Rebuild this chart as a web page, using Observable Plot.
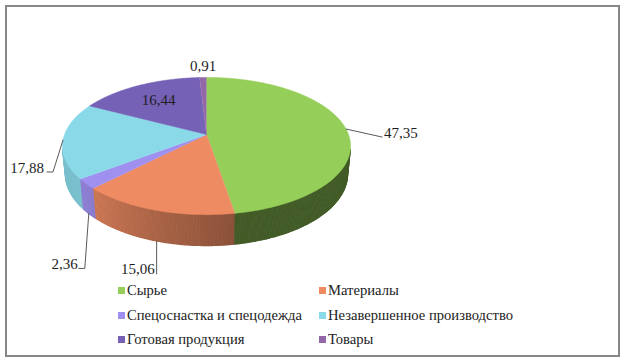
<!DOCTYPE html>
<html><head><meta charset="utf-8">
<script src="https://cdn.jsdelivr.net/npm/d3@7"></script>
<script src="https://cdn.jsdelivr.net/npm/@observablehq/plot@0.6"></script>
<style>
body{margin:0;background:#fff;width:625px;height:362px;overflow:hidden;position:relative;font-family:"Liberation Serif","Times New Roman",serif;}
#frame{position:absolute;left:5px;top:5px;width:611px;height:348px;border:2px solid #888;}
#chart{position:absolute;left:0;top:0;}
.lg{position:absolute;font-size:14.6px;color:#222;line-height:18px;white-space:nowrap;font-family:"Liberation Serif","Times New Roman",serif;}
.sw{position:absolute;width:7px;height:7px;}
svg text{font-family:"Liberation Serif","Times New Roman",serif !important;}
</style></head><body>
<div id="frame"></div>
<div id="chart"></div>
<div id="legend"></div>
<script>
// ---- data ----
const categories = ["Сырье", "Материалы", "Спецоснастка и спецодежда", "Незавершенное производство", "Готовая продукция", "Товары"];
const values = [47.35, 15.06, 2.36, 17.88, 16.44, 0.91];
const valueLabels = ["47,35", "15,06", "2,36", "17,88", "16,44", "0,91"];
const colors = ["#95CF59", "#EE8B62", "#9F8FEF", "#8AD9E8", "#7561B6", "#9468A8"];

// ---- 3D pie geometry (perspective projection of a tilted disc) ----
const S = 142, CX = 206, CY = 134;
const A = 28 * Math.PI / 180, L = 5.25, T = 0.223;
const sa = Math.sin(A), ca = Math.cos(A);
function proj(deg, r, H) {
  const th = deg * Math.PI / 180;
  const X = r * Math.sin(th), D = r * Math.cos(th);
  const v = D * sa + H * ca;
  const w = L + D * ca - H * sa;
  return [X * L / w, v * L / w];
}
const total = d3.sum(values);
const slices = [];
let acc = 0;
values.forEach((v, i) => {
  const a0 = acc / total * 360; acc += v;
  const a1 = acc / total * 360;
  slices.push({i, a0, a1, mid: (a0 + a1) / 2});
});

// top faces
const topPts = [];
slices.forEach(s => {
  topPts.push({x: 0, y: 0, id: s.i, c: colors[s.i]});
  const n = Math.max(2, Math.ceil((s.a1 - s.a0) / 0.5));
  for (let k = 0; k <= n; k++) {
    const [x, y] = proj(s.a0 + (s.a1 - s.a0) * k / n, 1, 0);
    topPts.push({x, y, id: s.i, c: colors[s.i]});
  }
});

// side walls (only the part facing the viewer)
const tLim = Math.acos(-1 / (L * ca)) * 180 / Math.PI;
const tMin = tLim, tMax = 360 - tLim;
function shadeF(th) {
  if (th < 170) return 0.44;
  return Math.min(0.88, 0.58 + (th - 170) * 0.30 / 60);
}
function shade(c, f) { const q = d3.rgb(c); return d3.rgb(q.r * f, q.g * f, q.b * f).formatHex(); }
const wallPts = [];
let seg = 0;
slices.forEach(s => {
  const b0 = Math.max(s.a0, tMin), b1 = Math.min(s.a1, tMax);
  if (b1 <= b0) return;
  const n = Math.max(1, Math.ceil((b1 - b0) / 1));
  for (let k = 0; k < n; k++) {
    const t0 = b0 + (b1 - b0) * k / n, t1 = b0 + (b1 - b0) * (k + 1) / n;
    const c = shade(colors[s.i], shadeF((t0 + t1) / 2));
    const id = "w" + (seg++);
    [[t0, 0], [t1, 0], [t1, -T], [t0, -T]].forEach(([t, h]) => {
      const [x, y] = proj(t, 1, h);
      wallPts.push({x, y, id, c});
    });
  }
});

// ---- label layout (pixel offsets from geometric anchors) ----
const labelLayout = [
  {anchor: [1, 0], path: [[36, 8]], text: [38, 4], ta: "start"},
  {anchor: [1, -T], path: [[0, 33]], text: [-2, 28], ta: "end"},
  {anchor: [1, -T], path: [[-4, 55], [-10, 55]], text: [-11, 51], ta: "end"},
  {anchor: [1, 0], path: [[-10, 32], [-16, 32]], text: [-19, 28], ta: "end"},
  {anchor: [0.68, 0], path: [], text: [0, 0], ta: "middle"},
  {anchor: [1, 0], path: [], text: [0, -11], ta: "middle"}
];
const leaderPts = [], labelData = [];
slices.forEach(s => {
  const lay = labelLayout[s.i];
  const [ax, ay] = proj(s.mid, lay.anchor[0], lay.anchor[1]);
  const off = ([ox, oy]) => [ax + ox / S, ay - oy / S];
  if (lay.path.length) {
    leaderPts.push({x: ax, y: ay, id: s.i});
    lay.path.forEach(p => { const [x, y] = off(p); leaderPts.push({x, y, id: s.i}); });
  }
  const [tx, ty] = off(lay.text);
  labelData.push({x: tx, y: ty, text: valueLabels[s.i], ta: lay.ta});
});

const textOpts = {x: "x", y: "y", text: "text", fontSize: 15, fontFamily: "Liberation Serif", fill: "#1e1e1e"};
const plot = Plot.plot({
  width: 625, height: 280, margin: 0,
  style: {background: "transparent"},
  x: {domain: [-1, 1], range: [CX - S, CX + S], axis: null},
  y: {domain: [-1, 1], range: [CY + S, CY - S], axis: null},
  color: {type: "identity"},
  marks: [
    Plot.line(wallPts, {x: "x", y: "y", z: "id", fill: "c", stroke: "c", strokeWidth: 1.2}),
    Plot.line(topPts, {x: "x", y: "y", z: "id", fill: "c", stroke: "c", strokeWidth: 0.5}),
    Plot.line(leaderPts, {x: "x", y: "y", z: "id", stroke: "#5a5a5a", strokeWidth: 1}),
    ...["start", "middle", "end"].map(ta => Plot.text(labelData.filter(d => d.ta === ta), {...textOpts, textAnchor: ta}))
  ]
});
document.getElementById("chart").appendChild(plot);

// ---- legend ----
const lgCols = [118, 319], lgRows = [290, 315, 339];
const lg = document.getElementById("legend");
categories.forEach((name, i) => {
  const x = lgCols[i % 2], y = lgRows[Math.floor(i / 2)];
  const sw = document.createElement("div");
  sw.className = "sw"; sw.style.left = x + "px"; sw.style.top = (y - 3.5) + "px"; sw.style.background = colors[i];
  const tx = document.createElement("div");
  tx.className = "lg"; tx.style.left = (x + 9) + "px"; tx.style.top = (y - 9) + "px"; tx.textContent = name;
  lg.appendChild(sw); lg.appendChild(tx);
});
</script>
</body></html>
